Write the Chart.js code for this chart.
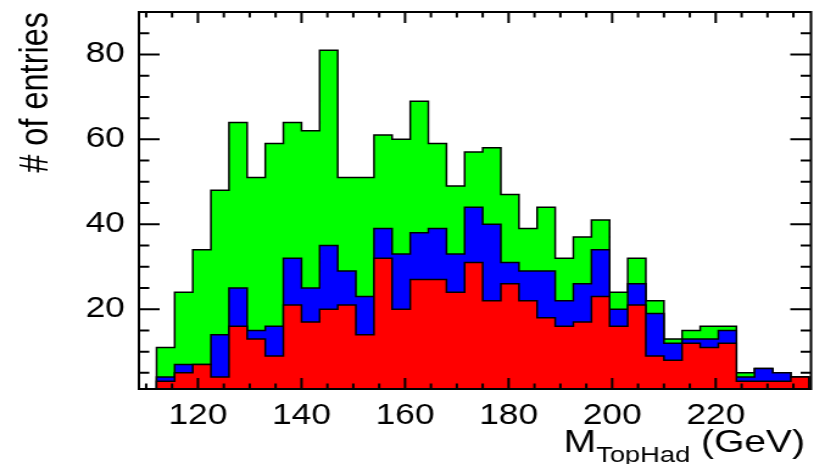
<!DOCTYPE html>
<html>
<head>
<meta charset="utf-8">
<script src="https://cdn.jsdelivr.net/npm/chart.js@4.4.1/dist/chart.umd.min.js"></script>
<style>
  html, body { margin: 0; padding: 0; background: #fff; overflow: hidden; }
  /* the plot is laid out narrow and widened horizontally */
  #wrap { width: 668px; height: 464px; transform: scaleX(1.2186); transform-origin: 0 0; }
</style>
</head>
<body>
<div id="wrap"><canvas id="c"></canvas></div>
<script>
// M_TopHad histogram: 36 bins of 3.5 GeV starting at 112 GeV
const binLow = 112;
const binWidth = 3.5;

// entries per bin, stacked bottom to top: red, blue, green
const redCounts   = [3,5,7,4,16,13,9,21,17,20,21,14,32,20,27,27,24,31,22,26,22,18,16,17,23,16,21,9,8,12,11,12,3,3,3,4];
const blueCounts  = [1,2,0,10,9,2,7,11,8,15,8,9,7,13,11,12,9,13,18,5,7,11,6,9,11,4,5,10,4,1,2,3,1,3,2,0];
const greenCounts = [7,17,27,34,39,36,43,32,37,46,22,28,22,27,31,20,16,13,18,16,10,15,10,11,7,4,6,3,1,2,3,1,1,0,0,0];

const xTickValues = [120, 140, 160, 180, 200, 220];
const yTickValues = [20, 40, 60, 80];

const xRange = [108.6, 238.4];
const yRange = [1.2, 90];

// cumulative tops of the stack
function cumulate(...layers) {
  return layers[0].map((_, i) => layers.reduce((s, l) => s + l[i], 0));
}
// step outline of a histogram: down to zero at both ends
function stepPoints(tops) {
  const pts = [{x: binLow, y: 0}];
  tops.forEach((v, i) => pts.push({x: binLow + i * binWidth, y: v}));
  pts.push({x: binLow + tops.length * binWidth, y: 0});
  return pts;
}

const redTop = cumulate(redCounts);
const blueTop = cumulate(redCounts, blueCounts);
const greenTop = cumulate(redCounts, blueCounts, greenCounts);

function histDataset(tops, color) {
  return {
    data: stepPoints(tops),
    stepped: true,
    fill: 'start',
    backgroundColor: color,
    borderColor: '#000',
    borderWidth: 1.5,
    pointRadius: 0,
    tension: 0
  };
}

const frameAndTitles = {
  id: 'frameAndTitles',
  afterDraw(chart) {
    const {ctx, chartArea: a, scales: {x, y}} = chart;
    ctx.save();
    ctx.strokeStyle = '#000';
    ctx.lineWidth = 2;
    ctx.strokeRect(a.left, a.top, a.right - a.left, a.bottom - a.top);
    ctx.beginPath();
    for (let v = 110; v <= 235; v += 5) {
      const px = x.getPixelForValue(v);
      const len = xTickValues.includes(v) ? 11 : 5.5;
      ctx.moveTo(px, a.bottom); ctx.lineTo(px, a.bottom - len);
      ctx.moveTo(px, a.top); ctx.lineTo(px, a.top + len);
    }
    for (let v = 5; v <= 85; v += 5) {
      const py = y.getPixelForValue(v);
      const len = yTickValues.includes(v) ? 17 : 8.5;
      ctx.moveTo(a.left, py); ctx.lineTo(a.left + len, py);
      ctx.moveTo(a.right, py); ctx.lineTo(a.right - len, py);
    }
    ctx.stroke();

    ctx.fillStyle = '#000';
    // x title with subscript, right-aligned
    const big = '32px "Liberation Sans", Arial, sans-serif';
    const small = '22.4px "Liberation Sans", Arial, sans-serif';
    ctx.textBaseline = 'alphabetic';
    ctx.textAlign = 'left';
    ctx.font = big; const wM = ctx.measureText('M').width;
    const wUnit = ctx.measureText(' (GeV)').width;
    ctx.font = small; const wSub = ctx.measureText('TopHad').width;
    let tx = 660.6 - (wM + wSub + wUnit);
    const base = 451.7;
    ctx.font = big; ctx.fillText('M', tx, base); tx += wM;
    ctx.font = small; ctx.fillText('TopHad', tx, base + 10.5); tx += wSub;
    ctx.font = big; ctx.fillText(' (GeV)', tx, base);

    // y title, rotated, ending at the top of the frame
    ctx.translate(38.6, a.top);
    ctx.rotate(-Math.PI / 2);
    ctx.font = '32.5px "Liberation Sans", Arial, sans-serif';
    ctx.textAlign = 'right';
    ctx.fillText('# of entries', 0, 0);
    ctx.restore();
  }
};

const tickFont = {family: '"Liberation Sans", Arial, sans-serif', size: 29};

new Chart(document.getElementById('c'), {
  type: 'line',
  data: {
    datasets: [
      histDataset(redTop, '#ff0000'),
      histDataset(blueTop, '#0000ff'),
      histDataset(greenTop, '#00ff00')
    ]
  },
  options: {
    responsive: true,
    maintainAspectRatio: false,
    animation: false,
    layout: {padding: {left: 0, right: 2.5, top: 12, bottom: 0}},
    plugins: {legend: {display: false}, tooltip: {enabled: false}},
    scales: {
      x: {
        type: 'linear',
        min: xRange[0], max: xRange[1],
        grid: {display: false, drawTicks: false},
        border: {display: false},
        afterBuildTicks: s => { s.ticks = xTickValues.map(v => ({value: v})); },
        afterFit: s => { s.height = 75; s.paddingLeft = 0; s.paddingRight = 0; },
        ticks: {color: '#000', font: tickFont, padding: 10, maxRotation: 0, autoSkip: false,
                callback: v => String(v)}
      },
      y: {
        type: 'linear',
        min: yRange[0], max: yRange[1],
        grid: {display: false, drawTicks: false},
        border: {display: false},
        afterBuildTicks: s => { s.ticks = yTickValues.map(v => ({value: v})); },
        afterFit: s => { s.width = 114; s.paddingTop = 0; s.paddingBottom = 0; },
        ticks: {color: '#000', font: tickFont, padding: 11.5, autoSkip: false,
                callback: v => String(v)}
      }
    }
  },
  plugins: [frameAndTitles]
});
</script>
</body>
</html>
